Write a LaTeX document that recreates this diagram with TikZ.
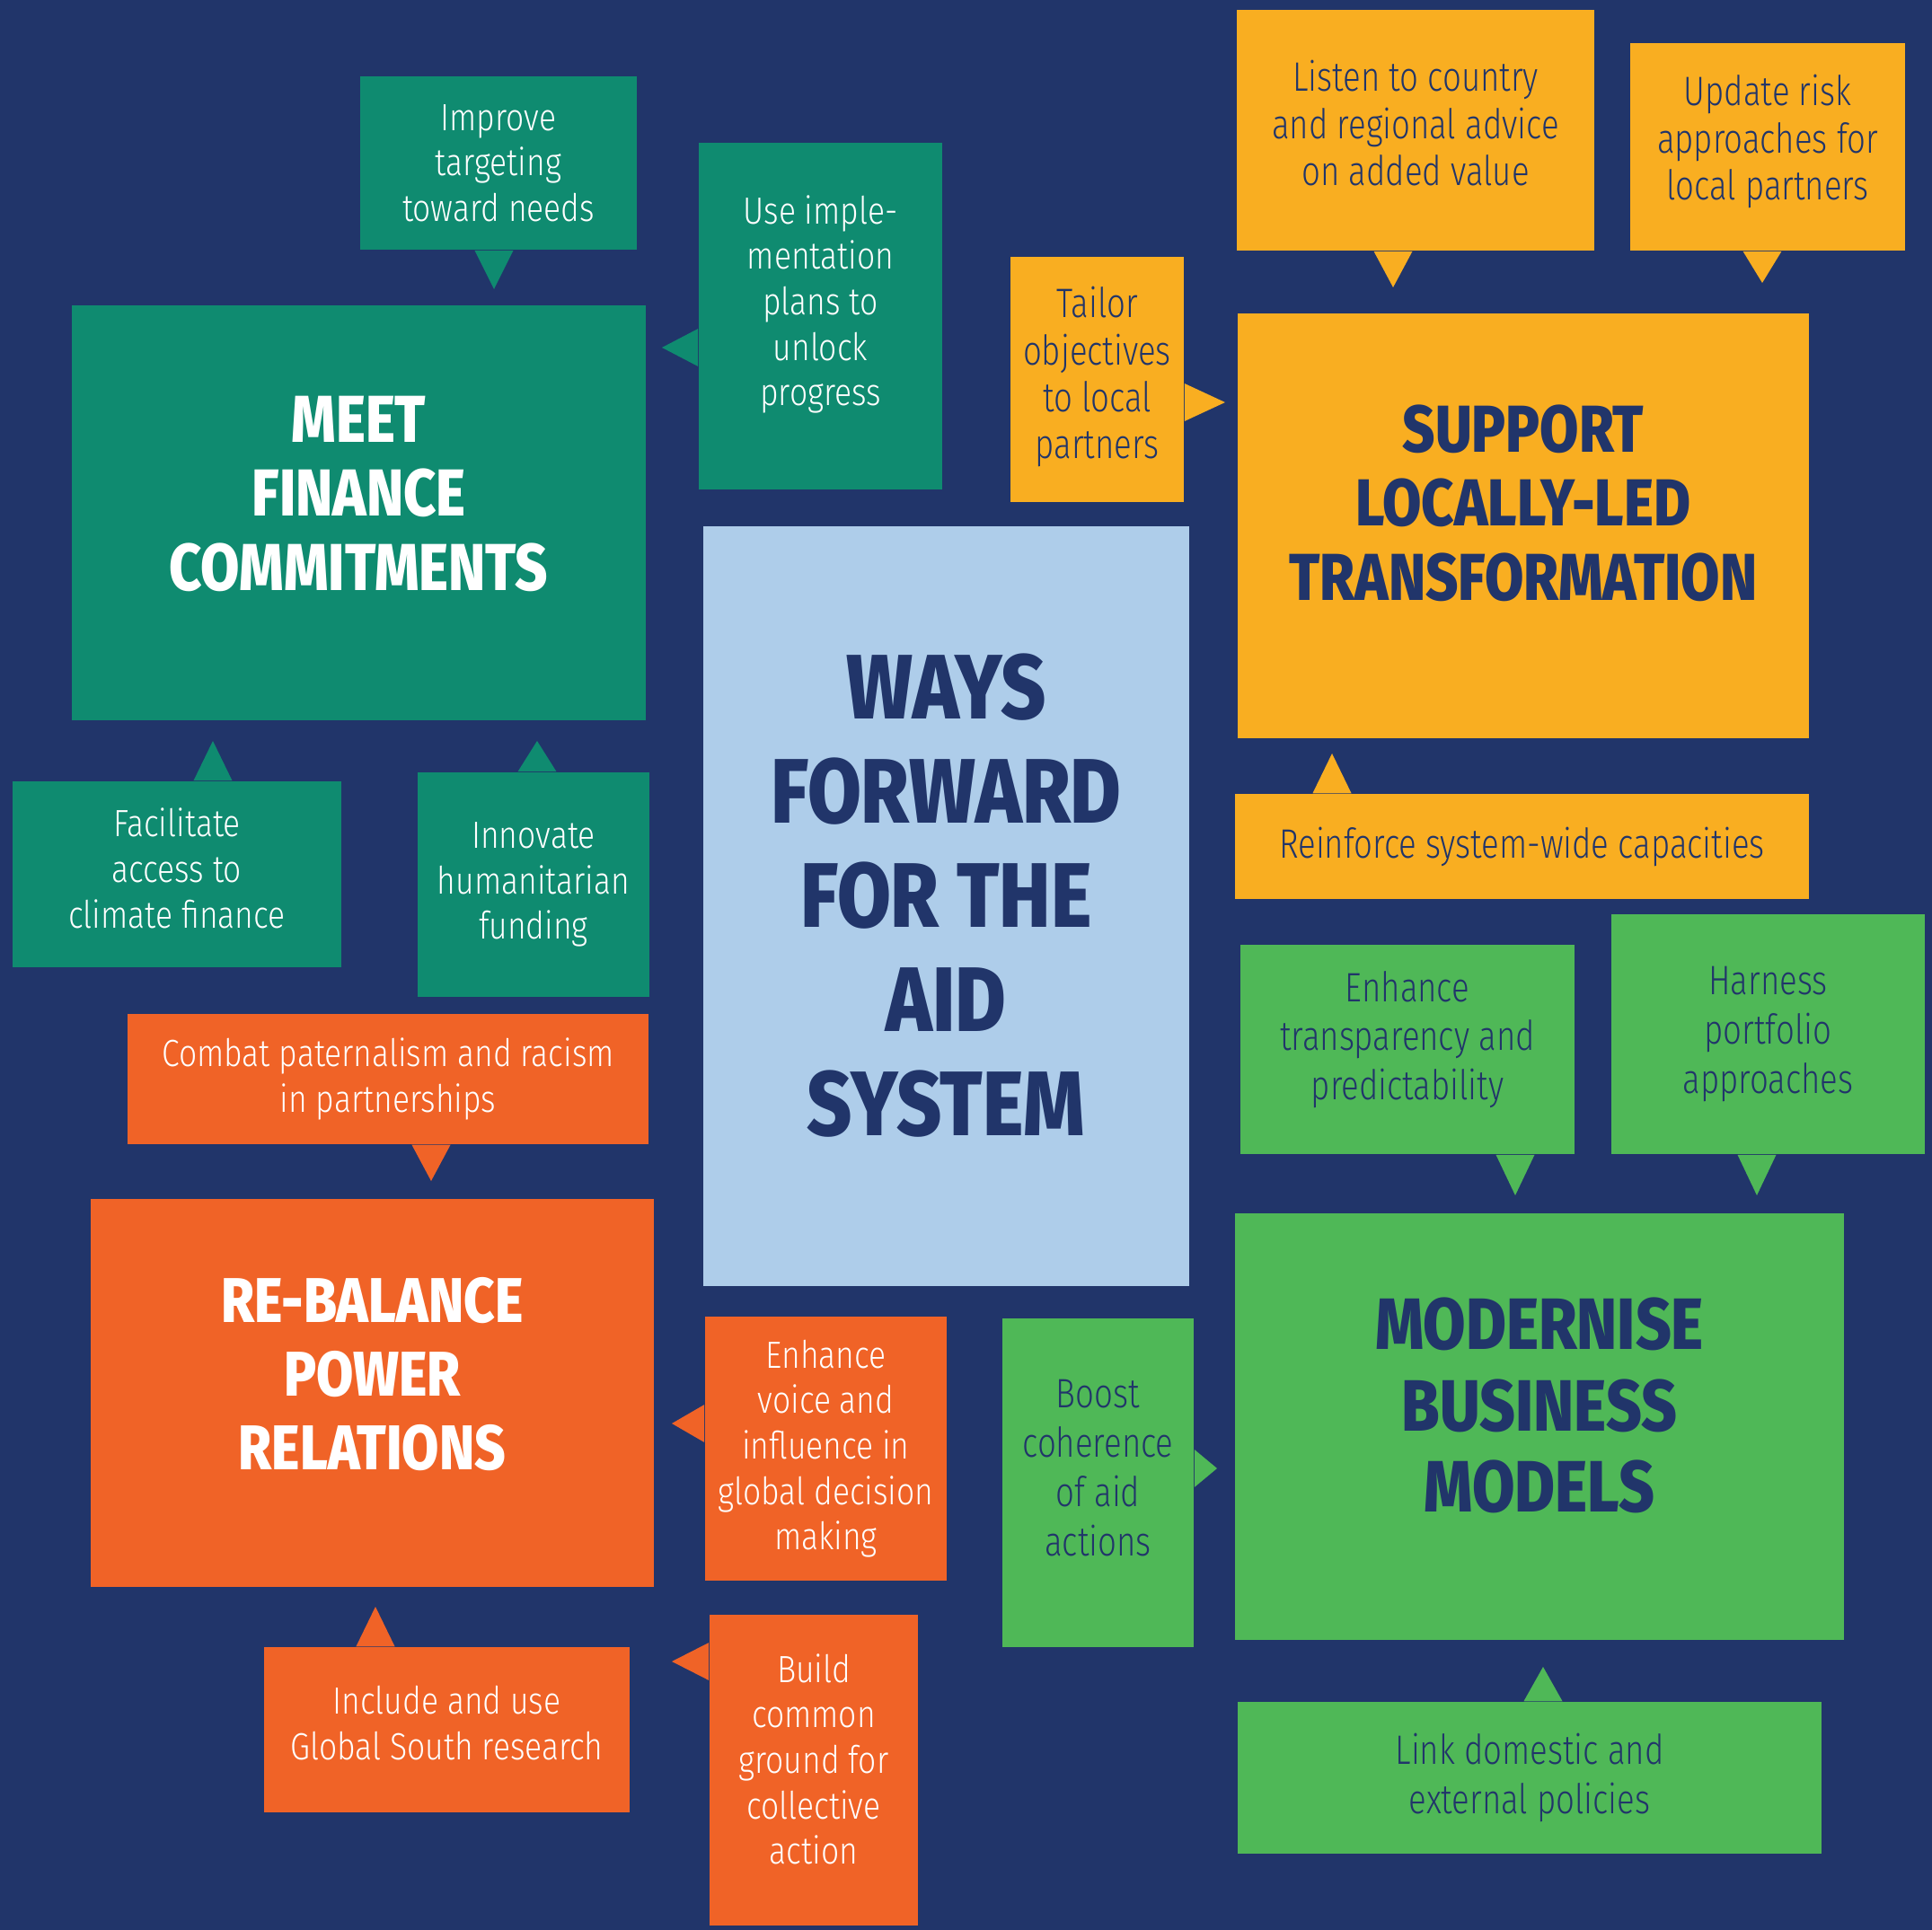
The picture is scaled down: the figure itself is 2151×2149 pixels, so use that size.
\documentclass[tikz,border=0pt]{standalone}
\usepackage{fontspec}
\setmainfont{Fira Sans Light}[FakeStretch=0.8]
\newfontfamily\leftfont{Fira Sans Light}[FakeStretch=0.84]
\newfontfamily\titlefont{Fira Sans ExtraBold}[FakeStretch=0.85]
\usetikzlibrary{positioning}

\definecolor{navy}{HTML}{21356A}
\definecolor{tealbox}{HTML}{0F8B70}
\definecolor{amber}{HTML}{F9AE21}
\definecolor{paleblue}{HTML}{AECDEA}
\definecolor{leaf}{HTML}{4FB857}
\definecolor{rust}{HTML}{F06327}

\begin{document}
\begin{tikzpicture}[x=0.01cm,y=-0.01cm,
    box/.style={rectangle,inner sep=2pt,align=center},
    small/.style={font=\leftfont\fontsize{12}{14.4}\selectfont},
    big/.style={font=\fontsize{13}{15.6}\selectfont},
    tight/.style={font=\fontsize{13}{14.9}\selectfont},
    heading/.style={font=\titlefont\fontsize{21}{23.5}\selectfont,text depth=0.44cm},
    onteal/.style={box,fill=tealbox,text=white},
    onrust/.style={box,fill=rust,text=white},
    onamber/.style={box,fill=amber,text=navy},
    onleaf/.style={box,fill=leaf,text=navy}]

  \fill[navy] (0,0) rectangle (2151,2149);
  \useasboundingbox (0,0) rectangle (2151,2149);

  % centre
  \node[box,fill=paleblue,text=navy,minimum width=5.41cm,minimum height=8.46cm,
        font=\titlefont\fontsize{29}{33}\selectfont,text depth=0.26cm]
        (ways) at (1053.5,1009) {WAYS\\FORWARD\\FOR THE\\AID\\SYSTEM};

  % finance (teal)
  \node[onteal,heading,minimum width=6.39cm,minimum height=4.62cm] (finance) at (399.5,571) {MEET\\FINANCE\\COMMITMENTS};
  \node[onteal,small,minimum width=3.08cm,minimum height=1.93cm] (improve) at (555,181.5) {Improve\\targeting\\toward needs};
  \node[onteal,small,minimum width=2.71cm,minimum height=3.86cm,text depth=0.35cm] (plans) at (913.5,352) {Use imple-\\mentation\\plans to\\unlock\\progress};
  \node[onteal,small,minimum width=3.66cm,minimum height=2.07cm,text depth=0.14cm] (climate) at (197,973.5) {Facilitate\\access to\\climate finance};
  \node[onteal,small,minimum width=2.58cm,minimum height=2.50cm] (humanitarian) at (594,985) {Innovate\\humanitarian\\funding};

  % power (rust)
  \node[onrust,heading,font=\titlefont\fontsize{20}{23.3}\selectfont,minimum width=6.27cm,minimum height=4.32cm] (power) at (414.5,1551) {RE-BALANCE\\POWER\\RELATIONS};
  \node[onrust,small,minimum width=5.80cm,minimum height=1.45cm] (paternalism) at (432,1201.5) {Combat paternalism and racism\\in partnerships};
  \node[onrust,small,minimum width=2.69cm,minimum height=2.94cm] (voice) at (919.5,1613) {Enhance\\voice and\\influence in\\global decision\\making};
  \node[onrust,small,minimum width=4.07cm,minimum height=1.84cm,text depth=0.16cm] (research) at (497.5,1926) {Include and use\\Global South research};
  \node[onrust,small,minimum width=2.32cm,minimum height=3.46cm,text depth=0.25cm] (ground) at (906,1971) {Build\\common\\ground for\\collective\\action};

  % local (amber)
  \node[onamber,heading,minimum width=6.36cm,minimum height=4.73cm,text depth=0.52cm] (local) at (1696,585.5) {SUPPORT\\LOCALLY-LED\\TRANSFORMATION};
  \node[onamber,tight,minimum width=3.98cm,minimum height=2.68cm,text depth=0.16cm] (listen) at (1576,145) {Listen to country\\and regional advice\\on added value};
  \node[onamber,tight,minimum width=3.06cm,minimum height=2.31cm,text depth=0.21cm] (risk) at (1968,163.5) {Update risk\\approaches for\\local partners};
  \node[onamber,tight,minimum width=1.93cm,minimum height=2.73cm,text depth=0.15cm] (tailor) at (1221.5,422.5) {Tailor\\objectives\\to local\\partners};
  \node[onamber,big,minimum width=6.39cm,minimum height=1.17cm] (capacities) at (1694.5,942.5) {Reinforce system-wide capacities};

  % business (leaf)
  \node[onleaf,heading,font=\titlefont\fontsize{23}{25.7}\selectfont,minimum width=6.78cm,minimum height=4.75cm,text depth=0.48cm] (business) at (1714,1588.5) {MODERNISE\\BUSINESS\\MODELS};
  \node[onleaf,big,minimum width=3.72cm,minimum height=2.33cm,text depth=0.31cm] (transparency) at (1567,1168.5) {Enhance\\transparency and\\predictability};
  \node[onleaf,big,minimum width=3.49cm,minimum height=2.67cm,text depth=0.1cm] (portfolio) at (1968.5,1151.5) {Harness\\portfolio\\approaches};
  \node[onleaf,big,minimum width=2.13cm,minimum height=3.66cm,text depth=0.33cm] (coherence) at (1222.5,1651) {Boost\\coherence\\of aid\\actions};
  \node[onleaf,big,minimum width=6.50cm,minimum height=1.69cm] (policies) at (1703,1979.5) {Link domestic and\\external policies};

  % pointer tips
  \coordinate (improve-tip) at (550,322);
  \coordinate (plans-tip) at (737,387);
  \coordinate (climate-tip) at (237,825);
  \coordinate (humanitarian-tip) at (598,825);
  \coordinate (paternalism-tip) at (480,1315);
  \coordinate (voice-tip) at (748,1585);
  \coordinate (research-tip) at (418,1789);
  \coordinate (ground-tip) at (748,1850);
  \coordinate (listen-tip) at (1551,320);
  \coordinate (risk-tip) at (1962,315);
  \coordinate (tailor-tip) at (1364,448);
  \coordinate (capacities-tip) at (1483,839);
  \coordinate (transparency-tip) at (1687,1331);
  \coordinate (portfolio-tip) at (1956,1331);
  \coordinate (coherence-tip) at (1355,1635);
  \coordinate (policies-tip) at (1718,1856);

  % pointers
  \foreach \c/\n in {tealbox/improve,rust/paternalism,amber/listen,amber/risk,leaf/transparency,leaf/portfolio}
    \fill[\c] ([xshift=-2.15mm]\n-tip |- \n.south) -- (\n-tip) -- ([xshift=2.15mm]\n-tip |- \n.south) -- cycle;
  \foreach \c/\n in {tealbox/climate,tealbox/humanitarian,rust/research,amber/capacities,leaf/policies}
    \fill[\c] ([xshift=-2.15mm]\n-tip |- \n.north) -- (\n-tip) -- ([xshift=2.15mm]\n-tip |- \n.north) -- cycle;
  \foreach \c/\n in {tealbox/plans,rust/voice,rust/ground}
    \fill[\c] ([yshift=-2.1mm]\n.west |- \n-tip) -- (\n-tip) -- ([yshift=2.1mm]\n.west |- \n-tip) -- cycle;
  \foreach \c/\n in {amber/tailor,leaf/coherence}
    \fill[\c] ([yshift=-2.1mm]\n.east |- \n-tip) -- (\n-tip) -- ([yshift=2.1mm]\n.east |- \n-tip) -- cycle;
\end{tikzpicture}
\end{document}
